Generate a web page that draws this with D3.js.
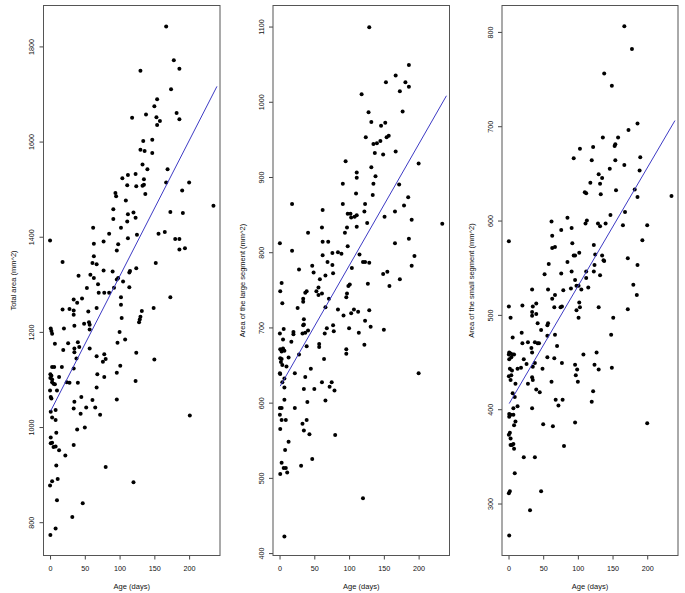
<!DOCTYPE html>
<html>
<head>
<meta charset="utf-8">
<script src="https://cdn.jsdelivr.net/npm/d3@7"></script>
<style>
  body { margin: 0; background: #fff; }
  svg text { font-family: "Liberation Sans", Arial, sans-serif; fill: #111; }
</style>
</head>
<body>
<div id="chart"></div>
<script>
// [age (days), area (mm^2)]
const totalPts = [
  [167,1842],[178,1771],[186,1753],[130,1749],[174,1710],[154,1689],[150,1674],[182,1660],[138,1657],[118,1650],
  [153,1651],[186,1647],[158,1643],[154,1635],[134,1601],[147,1604],[130,1583],[136,1580],[147,1576],[133,1552],
  [140,1542],[169,1542],[104,1523],[135,1521],[123,1532],[112,1530],[167,1514],[200,1514],[111,1508],[124,1506],
  [133,1507],[135,1509],[190,1497],[137,1490],[94,1492],[95,1485],[109,1476],[235,1465],[91,1458],[173,1452],
  [120,1451],[191,1450],[112,1447],[123,1440],[91,1437],[111,1432],[62,1419],[102,1419],[85,1406],[125,1404],
  [156,1406],[165,1410],[112,1397],[180,1395],[186,1395],[0,1392],[77,1390],[63,1385],[98,1384],[186,1373],
  [194,1376],[96,1371],[63,1359],[18,1347],[61,1345],[67,1342],[152,1345],[124,1334],[77,1329],[90,1327],
  [114,1325],[115,1328],[41,1318],[58,1320],[63,1313],[98,1313],[96,1310],[105,1306],[92,1293],[69,1300],
  [114,1294],[53,1292],[70,1282],[78,1282],[85,1282],[102,1273],[173,1273],[46,1270],[34,1268],[39,1261],
  [18,1247],[28,1248],[34,1245],[55,1243],[67,1250],[34,1236],[35,1213],[49,1217],[56,1220],[57,1215],
  [57,1205],[1,1207],[2,1202],[20,1207],[3,1196],[7,1175],[26,1176],[40,1178],[42,1168],[35,1165],
  [19,1162],[57,1165],[35,1157],[38,1144],[67,1149],[78,1153],[76,1137],[80,1143],[3,1126],[6,1126],
  [17,1126],[34,1123],[0.5,1111],[2,1108],[0.5,1103],[3,1100],[13,1105],[3,1094],[5,1091],[7,1090],
  [24,1094],[28,1093],[40,1093],[68,1111],[78,1105],[96,1114],[101,1129],[0,1077],[1,1063],[2,1060],
  [10,1077],[45,1063],[67,1083],[61,1057],[96,1058],[123,1097],[150,1142],[124,1156],[108,1184],[100,1200],
  [97,1177],[103,1229],[102,1257],[128,1220],[129,1226],[130,1232],[132,1244],[149,1250],[1,1032],[8,1036],
  [34,1039],[52,1041],[65,1041],[3,1020],[8,1015],[44,1028],[35,1053],[72,1026],[201,1024],[39,995],
  [50,999],[9,988],[1,978],[1,966],[3,967],[5,958],[8,959],[34,962],[13,951],[22,940],
  [9,919],[80,916],[3,886],[11,891],[0,877],[120,884],[10,846],[47,840],[32,811],[8,787],[0.5,773]
];
const largePts = [
  [129,1099],[186,1049],[167,1035],[153,1026],[181,1026],[186,1020],[173,1014],[118,1010],[177,987],[128,986],
  [132,973],[146,968],[152,972],[157,955],[154,953],[124,953],[145,948],[140,945],[135,944],[167,934],
  [137,932],[149,930],[95,921],[200,918],[132,913],[138,901],[111,906],[111,899],[135,891],[91,891],
  [172,890],[134,876],[110,878],[185,873],[18,864],[91,864],[123,864],[179,862],[62,856],[166,854],
  [98,851],[102,851],[103,846],[108,847],[111,849],[122,854],[151,847],[190,843],[234,838],[126,839],
  [61,833],[97,833],[111,834],[94,826],[41,826],[0.5,812],[62,814],[70,814],[186,818],[166,812],
  [18,802],[98,808],[84,800],[89,798],[76,799],[62,796],[115,797],[194,795],[120,787],[123,787],
  [129,786],[69,787],[76,783],[47,782],[190,782],[104,779],[28,777],[49,773],[77,772],[66,769],
  [149,771],[155,774],[58,764],[173,764],[101,757],[99,755],[127,758],[158,755],[3,759],[56,753],
  [1,748],[37,746],[39,748],[53,748],[56,743],[61,745],[34,738],[97,745],[96,740],[71,738],
  [4,732],[34,734],[26,726],[66,727],[84,724],[107,724],[129,723],[113,721],[103,719],[92,716],
  [123,709],[35,711],[35,704],[34,703],[0.5,692],[6,698],[20,694],[20,691],[33,692],[37,693],
  [41,696],[65,692],[68,699],[77,703],[78,695],[100,699],[114,693],[131,701],[150,697],[5,684],
  [17,681],[1,671],[5,672],[7,669],[3,668],[39,675],[57,678],[57,674],[96,671],[96,665],
  [122,677],[1,659],[3,658],[2,654],[13,660],[28,664],[64,658],[4,650],[10,648],[0.5,639],
  [1,638],[22,639],[45,645],[200,639],[7,632],[37,634],[4,627],[61,627],[75,627],[7,620],
  [72,621],[35,618],[50,618],[79,616],[7,604],[40,601],[66,603],[0.5,593],[3,593],[22,593],
  [0.5,584],[3,577],[9,577],[39,577],[33,572],[1,565],[35,563],[43,558],[80,557],[13,548],
  [8,537],[3,520],[31,516],[47,525],[6,513],[9,513],[11,507],[1,505],[120,473],[7,422]
];
const smallPts = [
  [167,806],[178,782],[138,756],[149,743],[186,703],[173,696],[136,688],[158,688],[154,681],[153,679],
  [103,676],[122,678],[94,666],[190,667],[120,664],[154,664],[167,659],[130,649],[146,655],[189,653],
  [135,645],[118,640],[132,639],[110,630],[112,629],[155,632],[182,633],[133,628],[186,625],[235,626],
  [168,609],[147,606],[62,599],[113,600],[111,597],[129,597],[140,597],[132,594],[165,595],[200,595],
  [85,603],[76,590],[91,592],[63,584],[0.5,578],[193,579],[63,571],[67,572],[92,576],[123,574],
  [102,566],[94,563],[96,563],[125,564],[135,563],[172,560],[137,558],[138,557],[58,554],[85,556],
  [186,553],[52,543],[76,544],[91,546],[112,546],[123,546],[124,553],[132,542],[96,537],[112,539],
  [98,531],[101,531],[115,529],[180,532],[34,527],[57,527],[79,526],[90,528],[105,527],[185,521],
  [67,521],[63,517],
  [0.5,509],[20,510],[35,509],[40,512],[34,503],[34,499],[40,501],[66,508],[75,508],[77,509],
  [98,505],[102,513],[103,508],[101,497],[130,508],[172,506],[151,497],[3,497],[42,491],[56,489],
  [57,491],[47,484],[19,481],[148,479],[67,479],[56,478],[6,476],[38,471],[42,470],[44,470],
  [28,471],[70,467],[20,470],[33,465],[34,460],[1,460],[3,459],[0.5,458],[6,458],[4,455],
  [1,453],[8,458],[108,458],[127,460],[22,453],[56,455],[66,454],[26,448],[38,449],[77,449],
  [96,447],[124,447],[2,443],[13,443],[18,444],[35,445],[49,443],[149,444],[99,442],[130,442],
  [5,441],[4,436],[97,436],[0.5,435],[34,434],[35,431],[62,429],[100,429],[3,431],[10,427],
  [28,427],[40,421],[45,418],[122,419],[6,417],[9,413],[68,410],[78,410],[120,408],[72,404],
  [13,403],[7,401],[34,401],[1,395],[3,394],[1,392],[7,394],[10,387],[8,383],[96,386],
  [50,384],[64,382],[200,385],[2,375],[0.5,373],[3,369],[3,362],[7,363],[5,362],[8,358],
  [80,361],[22,349],[38,349],[9,332],[2,313],[0.5,311],[47,313],[31,293],[1,266]
];

// fitted lines: [age, area] at both ends
const totalFit = [[1,1034],[240,1716]];
const largeFit = [[1,622],[240,1008]];
const smallFit = [[1,406],[240,706]];

const xTicks = [0,50,100,150,200];
const totalTicks = [800,1000,1200,1400,1600,1800];
const largeTicks = [400,500,600,700,800,900,1000,1100];
const smallTicks = [300,400,500,600,700,800];

const panels = [
  {pts: totalPts, fit: totalFit, ticks: totalTicks, domain: [730,1886], title: "Total area (mm^2)", left: 43.5, right: 220},
  {pts: largePts, fit: largeFit, ticks: largeTicks, domain: [396.8,1128], title: "Area of the large segment (mm^2)", left: 273, right: 449.5},
  {pts: smallPts, fit: smallFit, ticks: smallTicks, domain: [244.9,828], title: "Area of the small segment (mm^2)", left: 502, right: 678}
];

const W = 685, H = 593;
const plotTop = 5.5, plotBottom = 555.5;
const svg = d3.select('#chart').append('svg')
    .attr('width', W)
    .attr('height', H);

panels.forEach(p => {
    const x = d3.scaleLinear().domain([-9.4, 244.4]).range([p.left, p.right]);
    const y = d3.scaleLinear().domain(p.domain).range([plotBottom, plotTop]);
    const g = svg.append('g');

    // points
    g.selectAll('circle')
        .data(p.pts)
        .enter()
        .append('circle')
        .attr('cx', d => x(d[0]))
        .attr('cy', d => y(d[1]))
        .attr('r', 2)
        .attr('fill', '#000');

    // regression line
    g.append('path')
        .datum(p.fit)
        .attr('d', d3.line().x(d => x(d[0])).y(d => y(d[1])))
        .attr('fill', 'none')
        .attr('stroke', '#3d3ac4')
        .attr('stroke-width', 1);

    // x axis
    const xa = g.append('g')
        .attr('transform', `translate(0,${plotBottom})`)
        .call(d3.axisBottom(x).tickValues(xTicks).tickFormat(d3.format('d')).tickSize(4).tickPadding(6));
    // y axis
    const ya = g.append('g')
        .attr('transform', `translate(${p.left},0)`)
        .call(d3.axisLeft(y).tickValues(p.ticks).tickFormat(d3.format('d')).tickSize(4));

    [xa, ya].forEach(a => {
        a.select('.domain').remove();
        a.selectAll('line').attr('stroke', '#444');
        a.selectAll('text').attr('font-size', 7.2).style('font-family', '"Liberation Sans", Arial, sans-serif').attr('fill', '#111');
    });
    // R style: y tick labels parallel to the axis
    ya.selectAll('text')
        .attr('x', 0).attr('y', 0).attr('dy', '0.35em')
        .attr('text-anchor', 'middle')
        .attr('transform', 'translate(-12,0) rotate(-90)');

    // box
    g.append('rect')
        .attr('x', p.left).attr('y', plotTop)
        .attr('width', p.right - p.left).attr('height', plotBottom - plotTop)
        .attr('fill', 'none')
        .attr('stroke', '#555')
        .attr('stroke-width', 1);

    // titles
    g.append('text')
        .attr('x', (p.left + p.right) / 2)
        .attr('y', 589)
        .attr('text-anchor', 'middle')
        .attr('font-size', 7.5)
        .text('Age (days)');
    g.append('text')
        .attr('transform', `translate(${p.left - 28},${(plotTop + plotBottom) / 2}) rotate(-90)`)
        .attr('text-anchor', 'middle')
        .attr('font-size', 7.5)
        .text(p.title);
});
</script>
</body>
</html>
